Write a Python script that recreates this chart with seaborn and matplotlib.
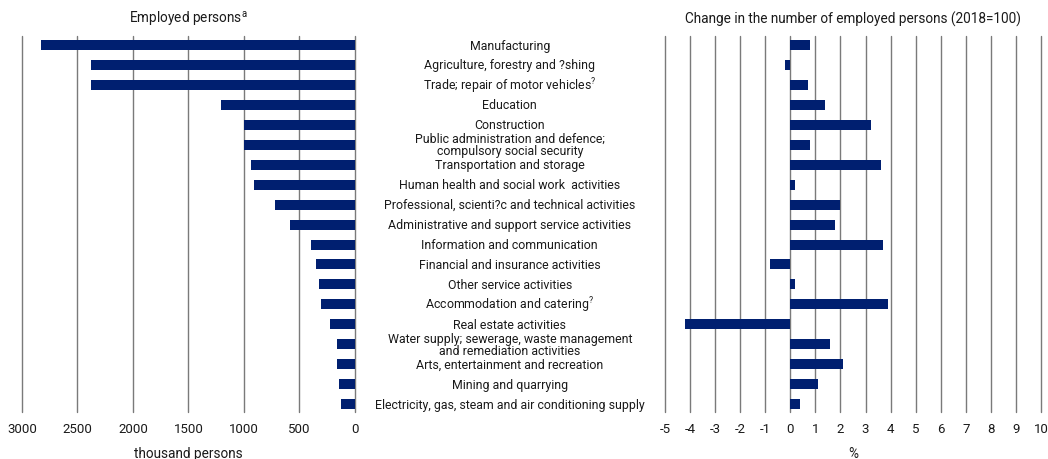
import numpy as np
import pandas as pd
import seaborn as sns
import matplotlib
matplotlib.use("Agg")
import matplotlib.pyplot as plt

# data
sectors = ["Manufacturing",
           "Agriculture, forestry and ?shing",
           "Trade; repair of motor vehicles$^{\\mathregular{?}}$",
           "Education",
           "Construction",
           "Public administration and defence;\ncompulsory social security",
           "Transportation and storage",
           "Human health and social work  activities",
           "Professional, scienti?c and technical activities",
           "Administrative and support service activities",
           "Information and communication",
           "Financial and insurance activities",
           "Other service activities",
           "Accommodation and catering$^{\\mathregular{?}}$",
           "Real estate activities",
           "Water supply; sewerage, waste management\nand remediation activities",
           "Arts, entertainment and recreation",
           "Mining and quarrying",
           "Electricity, gas, steam and air conditioning supply"]
employed = [2830, 2380, 2380, 1210, 1000, 997, 934, 910, 720, 583,
            396, 354, 324, 309, 222, 165, 162, 141, 126]
change = [0.8, -0.2, 0.7, 1.4, 3.2, 0.8, 3.6, 0.2, 2.0, 1.8,
          3.7, -0.8, 0.2, 3.9, -4.2, 1.6, 2.1, 1.1, 0.4]

df = pd.DataFrame({"sector": sectors, "employed": employed, "change": change})

sns.set_theme(style="white")
plt.rcParams['font.family'] = ['Roboto', 'DejaVu Sans']
plt.rcParams['axes.unicode_minus'] = False
navy = "#001f70"
gridc = "#7a7a7a"
txt = "#1a1a1a"

fig = plt.figure(figsize=(10.48, 4.6), dpi=100)
ax1 = fig.add_axes([0.021, 0.102, 0.3177, 0.8174])
ax2 = fig.add_axes([0.6345, 0.102, 0.3588, 0.8174])

sns.barplot(data=df, x="employed", y="sector", orient="h", ax=ax1,
            color=navy, saturation=1, width=0.5, linewidth=0)
sns.barplot(data=df, x="change", y="sector", orient="h", ax=ax2,
            color=navy, saturation=1, width=0.5, linewidth=0)

ax1.set_xlim(3000, 0)
ax1.set_xticks(np.arange(0, 3001, 500))
ax2.set_xlim(-5, 10)
ax2.set_xticks(np.arange(-5, 11, 1))

for ax in [ax1, ax2]:
    ax.set_ylim(18.4, -0.45)
    ax.set_yticks([])
    ax.set_ylabel("")
    for s in ax.spines.values():
        s.set_visible(False)
    ax.grid(axis="x", color=gridc, lw=1)
    ax.set_axisbelow(True)
    for gl in ax.get_xgridlines():
        gl.set_clip_on(False)
    ax.tick_params(axis="x", length=0, pad=7, labelsize=9.5, colors=txt)

ax1.set_xlabel("thousand persons", fontsize=9.8, labelpad=8, color=txt)
ax2.set_xlabel("%", fontsize=9.8, labelpad=8, color=txt)
ax1.set_title("Employed persons$^{\\mathregular{a}}$", fontsize=9.8, pad=10, color=txt)
ax2.set_title("Change in the number of employed persons (2018=100)", fontsize=9.8,
              pad=10, color=txt)

# category names between the two panels
tr = ax1.get_yaxis_transform()
for i, name in enumerate(sectors):
    ax1.text(1.465, i, name, transform=tr, ha="center", va="center",
             fontsize=8.9, linespacing=0.9, color=txt, clip_on=False)

fig.savefig("out.png", dpi=100)
